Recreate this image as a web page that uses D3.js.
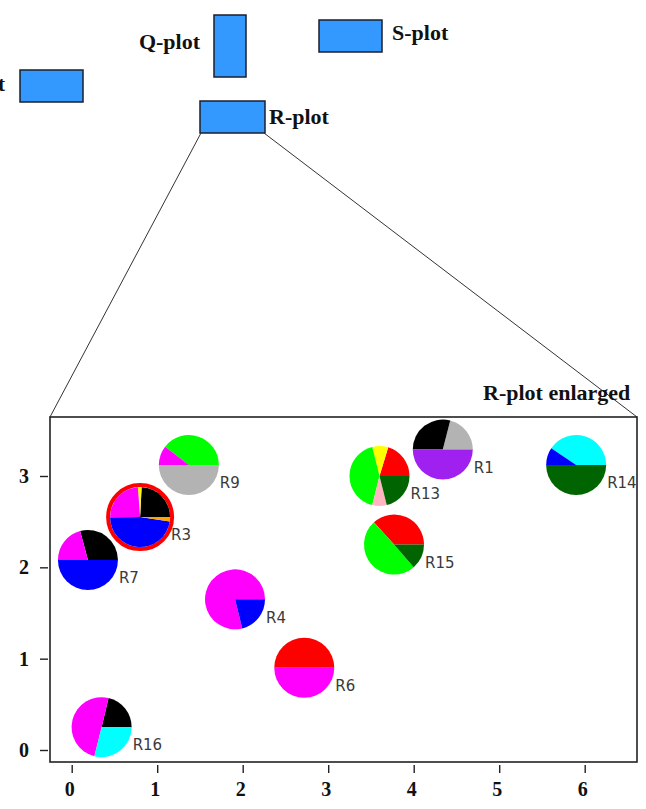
<!DOCTYPE html>
<html>
<head>
<meta charset="utf-8">
<script src="https://cdn.jsdelivr.net/npm/d3@7"></script>
<style>
  body { margin: 0; background: #fff; }
  .box-label { font-family: 'Liberation Serif', 'Times New Roman', serif; font-weight: bold; font-size: 22px; fill: #111; }
  .tick text { font-family: 'Liberation Serif', 'Times New Roman', serif; font-weight: bold; font-size: 20px; fill: #111; }
  .pie-label { font-family: 'DejaVu Sans', sans-serif; font-size: 15px; fill: #3a3a3a; }
</style>
</head>
<body>
<svg id="chart" width="646" height="809"></svg>
<script>
// region names and positions in the enlarged R-plot
const regionNames = ['R1', 'R3', 'R4', 'R6', 'R7', 'R9', 'R13', 'R14', 'R15', 'R16'];
const regionX = [4.34, 0.80, 1.91, 2.72, 0.19, 1.37, 3.60, 5.90, 3.77, 0.35];
const regionY = [3.29, 2.55, 1.65, 0.90, 2.08, 3.12, 3.00, 3.12, 2.25, 0.25];

// pie slices per region (percent), drawn counter-clockwise from 3 o'clock
const sliceShares = [
  [21, 29, 50],
  [24.2, 2, 24, 47.5, 2.3],
  [78.9, 21.1],
  [50, 50],
  [29.2, 20.8, 50],
  [39.5, 10.5, 50],
  [20.3, 8.6, 42.2, 7.8, 21.1],
  [40.6, 9.4, 50],
  [36.7, 49.7, 13.6],
  [21.3, 49.8, 28.9]
];
const sliceKinds = [
  ['gray', 'black', 'purple'],
  ['black', 'yellow', 'magenta', 'blue', 'orange'],
  ['magenta', 'blue'],
  ['red', 'magenta'],
  ['black', 'magenta', 'blue'],
  ['green', 'magenta', 'gray'],
  ['red', 'yellow', 'green', 'pink', 'darkgreen'],
  ['cyan', 'blue', 'darkgreen'],
  ['red', 'green', 'darkgreen'],
  ['black', 'magenta', 'cyan']
];
const highlighted = ['R3'];

const xTicks = [0, 1, 2, 3, 4, 5, 6];
const yTicks = [0, 1, 2, 3];

// overview boxes at the top
const plotBoxes = ['P-plot', 'Q-plot', 'S-plot', 'R-plot'];

const svg = d3.select('#chart');

const kindColor = d3.scaleOrdinal()
  .domain(['gray', 'black', 'purple', 'yellow', 'magenta', 'blue', 'orange', 'red', 'green', 'pink', 'darkgreen', 'cyan'])
  .range(['#b3b3b3', '#000000', '#a020f0', '#ffff00', '#ff00ff', '#0000ff', '#ffa500', '#ff0000', '#00ff00', '#ffb6c1', '#006400', '#00ffff']);

//Layout of the overview part
const boxLayout = {
  'P-plot': { x: 20, y: 70, w: 63, h: 32, lx: 5, ly: 91, anchor: 'end' },
  'Q-plot': { x: 214, y: 15, w: 32, h: 62, lx: 200, ly: 49, anchor: 'end' },
  'S-plot': { x: 319, y: 20, w: 63, h: 32, lx: 392, ly: 40, anchor: 'start' },
  'R-plot': { x: 200, y: 101, w: 65, h: 32, lx: 269, ly: 124, anchor: 'start' }
};

const frame = { left: 50, top: 417, right: 637, bottom: 762 };

const boxes = svg.append('g').attr('class', 'boxes');
boxes.selectAll('rect').data(plotBoxes)
  .enter().append('rect')
    .attr('x', d => boxLayout[d].x)
    .attr('y', d => boxLayout[d].y)
    .attr('width', d => boxLayout[d].w)
    .attr('height', d => boxLayout[d].h)
    .attr('fill', '#3399ff')
    .attr('stroke', '#1b1f2e')
    .attr('stroke-width', 1.5);
boxes.selectAll('text').data(plotBoxes)
  .enter().append('text')
    .attr('class', 'box-label')
    .attr('x', d => boxLayout[d].lx)
    .attr('y', d => boxLayout[d].ly)
    .attr('text-anchor', d => boxLayout[d].anchor)
    .text(d => d);

//Connector lines from the R-plot box to the enlarged frame
const rb = boxLayout['R-plot'];
svg.append('line')
  .attr('x1', rb.x + 1).attr('y1', rb.y + rb.h)
  .attr('x2', frame.left).attr('y2', frame.top)
  .attr('stroke', '#333').attr('stroke-width', 1);
svg.append('line')
  .attr('x1', rb.x + rb.w - 1).attr('y1', rb.y + rb.h)
  .attr('x2', frame.right).attr('y2', frame.top)
  .attr('stroke', '#333').attr('stroke-width', 1);

svg.append('text')
  .attr('class', 'box-label')
  .attr('x', 483)
  .attr('y', 400)
  .text('R-plot enlarged');

//Enlarged frame
svg.append('rect')
  .attr('x', frame.left)
  .attr('y', frame.top)
  .attr('width', frame.right - frame.left)
  .attr('height', frame.bottom - frame.top)
  .attr('fill', '#fff')
  .attr('stroke', '#222')
  .attr('stroke-width', 1.6);

const xScale = d3.scaleLinear().domain([0, 6]).range([71.7, 584.7]);
const yScale = d3.scaleLinear().domain([0, 3]).range([750, 476]);

const xAxis = d3.axisBottom(xScale).tickValues(xTicks).tickFormat(d3.format('d'))
  .tickSize(8).tickPadding(9);
const yAxis = d3.axisLeft(yScale).tickValues(yTicks).tickFormat(d3.format('d'))
  .tickSize(8).tickPadding(11);

const xAxisG = svg.append('g')
  .attr('transform', `translate(0,${frame.bottom + 3})`)
  .call(xAxis);
xAxisG.select('.domain').remove();
xAxisG.selectAll('.tick line').attr('stroke', '#222').attr('stroke-width', 1.4);
xAxisG.selectAll('.tick text').attr('dx', -2.5);

const yAxisG = svg.append('g')
  .attr('transform', `translate(${frame.left - 2},0)`)
  .call(yAxis);
yAxisG.select('.domain').remove();
yAxisG.selectAll('.tick line').attr('stroke', '#222').attr('stroke-width', 1.4);

//Pies
const radius = 30;
const pie = d3.pie().sort(null)
  .startAngle(Math.PI / 2)
  .endAngle(Math.PI / 2 - 2 * Math.PI);
const arc = d3.arc().innerRadius(0).outerRadius(radius);

const regions = regionNames.map((name, i) => ({
  name: name,
  x: regionX[i],
  y: regionY[i],
  slices: sliceShares[i].map((v, j) => ({ value: v, kind: sliceKinds[i][j] }))
}));

const pieG = svg.append('g').attr('class', 'pies')
  .selectAll('g').data(regions)
  .enter().append('g')
    .attr('transform', d => `translate(${xScale(d.x)},${yScale(d.y)})`);

pieG.filter(d => highlighted.includes(d.name))
  .append('circle')
    .attr('r', radius + 2)
    .attr('fill', 'none')
    .attr('stroke', '#ff0000')
    .attr('stroke-width', 4);

pieG.selectAll('path')
  .data(d => pie.value(s => s.value)(d.slices))
  .enter().append('path')
    .attr('d', arc)
    .attr('fill', d => kindColor(d.data.kind));

pieG.append('text')
  .attr('class', 'pie-label')
  .attr('x', radius + 1)
  .attr('y', 18)
  .attr('dy', '0.35em')
  .text(d => d.name);
</script>
</body>
</html>
